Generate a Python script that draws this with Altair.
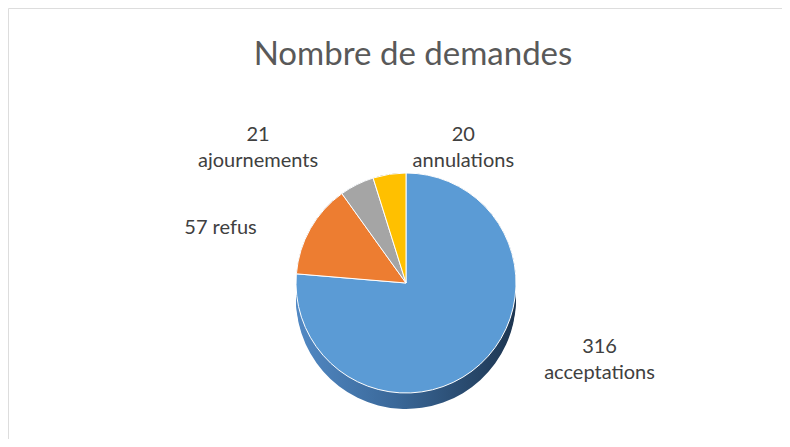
import altair as alt
import pandas as pd

categories = ["acceptations", "refus", "ajournements", "annulations"]
values = [316, 57, 21, 20]
wrapped = [True, False, True, True]
colors = ["#5B9BD5", "#ED7D31", "#A5A5A5", "#FFC000"]

df = pd.DataFrame({
    "cat": categories,
    "value": values,
    "idx": list(range(len(categories))),
    "label": [f"{v}\n{c}" if w else f"{v} {c}" for c, v, w in zip(categories, values, wrapped)],
})

W, H = 774, 431
CX, CY, R, DEPTH = 398, 275, 110, 16

base = alt.Chart(df)
theta = alt.Theta("value:Q", stack=True)
order = alt.Order("idx:Q")

side_grad = alt.LinearGradient(
    gradient="linear",
    stops=[alt.GradientStop(color="#5289c4", offset=0),
           alt.GradientStop(color="#3a6899", offset=0.45),
           alt.GradientStop(color="#1d3550", offset=1)],
    x1=0, x2=1, y1=0, y2=0,
)

layers = []
for k in range(DEPTH, -1, -2):
    layers.append(
        base.mark_arc(outerRadius=R, color=side_grad).encode(
            theta=theta, order=order, x=alt.value(CX), y=alt.value(CY + k)
        )
    )

top = base.mark_arc(outerRadius=R, stroke="white", strokeWidth=1).encode(
    theta=theta, order=order,
    color=alt.Color("cat:N", scale=alt.Scale(domain=categories, range=colors), legend=None),
    x=alt.value(CX), y=alt.value(CY),
)
layers.append(top)

offsets = {
    "acceptations": (92, -46),
    "refus": (-55, 19),
    "ajournements": (-81, -14),
    "annulations": (80, 0),
}
for cat, (dx, dy) in offsets.items():
    layers.append(
        base.transform_window(
            cum="sum(value)", sort=[alt.SortField("idx")], frame=[None, 0]
        )
        .transform_calculate(mid="datum.cum - datum.value / 2")
        .transform_filter(alt.datum.cat == cat)
        .mark_text(font="Lato", fontSize=20, color="#404040",
                   lineBreak="\n", lineHeight=26, dx=dx, dy=dy, baseline="middle")
        .encode(
            theta=alt.Theta("mid:Q"),
            radius=alt.value(150),
            text="label:N", x=alt.value(CX), y=alt.value(CY),
        )
    )

chart = alt.layer(*layers).properties(
    width=W, height=H,
    autosize=alt.AutoSizeParams(type="none"),
    padding=0,
    title=alt.Title("Nombre de demandes", fontSize=33, font="Lato", fontWeight="normal",
                    color="#595959", offset=-64, anchor="middle", dx=18),
).configure_view(stroke="#D9D9D9", strokeWidth=1).configure(background="white")

chart.save("out.html", embed_options={"renderer": "svg", "actions": False})
